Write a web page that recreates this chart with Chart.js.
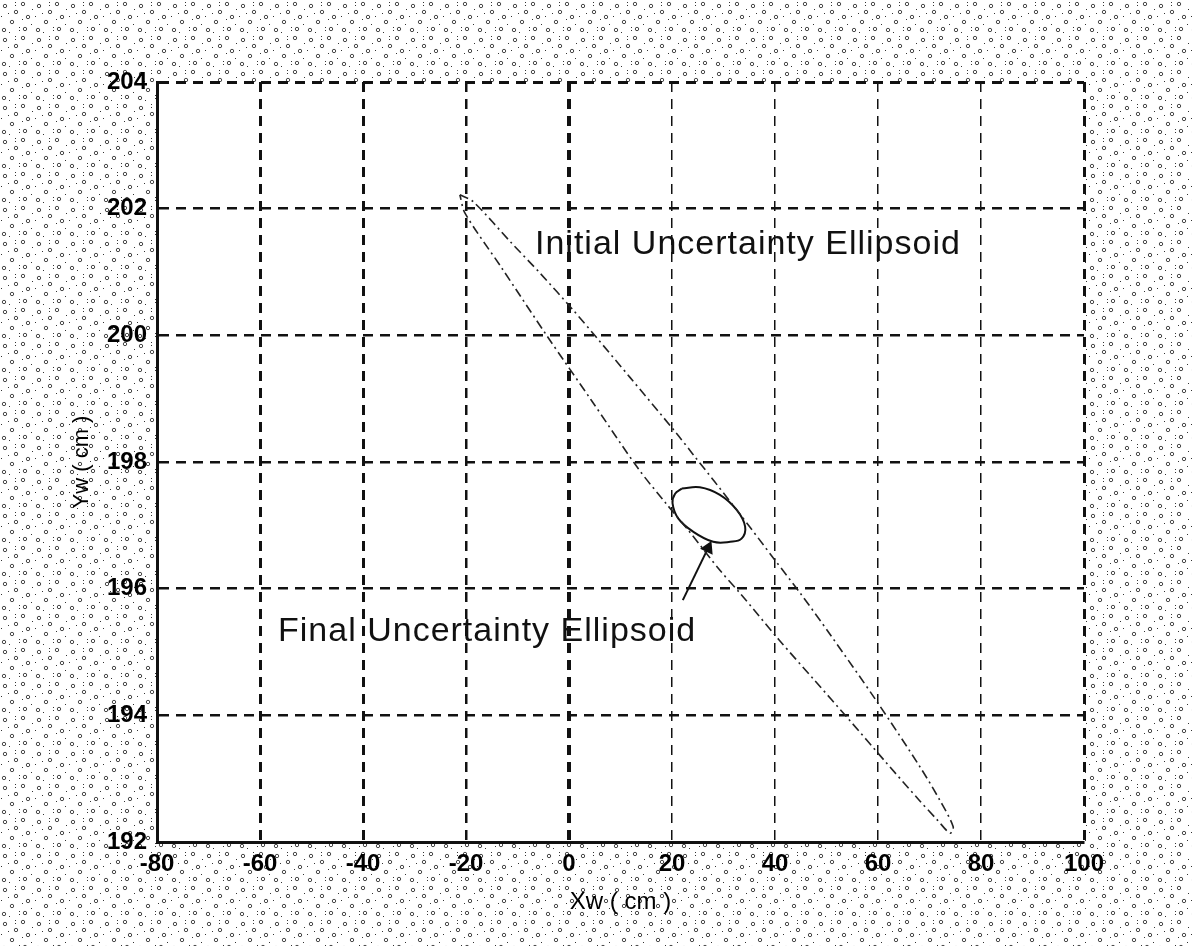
<!DOCTYPE html>
<html>
<head>
<meta charset="utf-8">
<script src="https://cdn.jsdelivr.net/npm/chart.js@4/dist/chart.umd.min.js"></script>
<style>
  html, body { margin: 0; padding: 0; background: #fff; }
  #wrap { width: 1192px; height: 946px; }
</style>
</head>
<body>
<div id="wrap"><canvas id="chart" width="1192" height="946"></canvas></div>
<script>
'use strict';

// axis ticks
const xTicks = [-80, -60, -40, -20, 0, 20, 40, 60, 80, 100];
const yTicks = [192, 194, 196, 198, 200, 202, 204];

// initial uncertainty ellipsoid, traced round from the upper-left tip
const initX = [-21.2, -18.6, -11.3, -5.6, 0.8, 5.4, 11.8, 20.8, 23.9, 32.6, 40.0, 44.9, 50.5, 59.6, 68.2, 72.0, 74.6, 74.0,
  71.5, 68.0, 61.2, 54.4, 47.6, 40.8, 33.2, 29.3, 23.1, 18.8, 13.4, 4.3, -4.1, -13.2, -20.2, -21.2];
const initY = [202.22, 202.11, 201.47, 200.98, 200.4, 199.96, 199.34, 198.46, 198.14, 197.24, 196.45, 195.93, 195.3, 194.24, 193.18, 192.66, 192.24, 192.14,
  192.35, 192.66, 193.29, 193.93, 194.56, 195.19, 195.93, 196.29, 196.93, 197.35, 197.9, 198.98, 199.97, 201.08, 201.93, 202.22];

// final uncertainty ellipsoid
const finalX = [21.9, 25.4, 29.3, 32.6, 34.2, 33.5, 31.3, 28.0, 24.1, 21.2, 20.1, 20.6, 21.9];
const finalY = [197.58, 197.6, 197.48, 197.24, 196.98, 196.79, 196.74, 196.74, 196.9, 197.11, 197.35, 197.5, 197.58];

// arrow from the label to the final ellipse
const arrowX = [22.1, 27.0];
const arrowY = [195.82, 196.64];

// text annotations
const noteText = ['Initial Uncertainty Ellipsoid', 'Final Uncertainty Ellipsoid'];
const noteX = [-6.6, -56.5];
const noteY = [201.43, 195.32];

const zip = (xs, ys) => xs.map((x, i) => ({ x, y: ys[i] }));

const FONT = '"Liberation Sans", Arial, sans-serif';
const INK = '#111';

// stippled paper texture round the plot
function makeStipple() {
  const c = document.createElement('canvas');
  c.width = 34; c.height = 34;
  const g = c.getContext('2d');
  g.fillStyle = '#fff';
  g.fillRect(0, 0, 34, 34);
  g.strokeStyle = '#333';
  g.lineWidth = 0.9;
  [[5, 6], [23, 4], [28, 17], [12, 22], [25, 29], [4, 30], [16, 12]].forEach(([x, y]) => {
    g.beginPath();
    g.arc(x, y, 1.7, 0, Math.PI * 2);
    g.stroke();
  });
  g.fillStyle = '#333';
  [[15, 2], [15, 5], [32, 9], [1, 16], [19, 27], [19, 30], [9, 32], [31, 24], [8, 13], [22, 19]].forEach(([x, y]) => g.fillRect(x, y, 1, 1));
  return c;
}

const paperPlugin = {
  id: 'paper',
  beforeDraw(chart) {
    const { ctx, chartArea: a } = chart;
    ctx.save();
    ctx.fillStyle = ctx.createPattern(makeStipple(), 'repeat');
    ctx.fillRect(0, 0, chart.width, chart.height);
    ctx.fillStyle = '#fff';
    ctx.fillRect(a.left, a.top, a.right - a.left, a.bottom - a.top);
    ctx.restore();
  }
};

const notesPlugin = {
  id: 'notes',
  afterDatasetsDraw(chart) {
    const { ctx, scales: { x, y } } = chart;
    ctx.save();
    ctx.font = '34px ' + FONT;
    if ('letterSpacing' in ctx) ctx.letterSpacing = '1px';
    ctx.fillStyle = INK;
    ctx.textAlign = 'left';
    ctx.textBaseline = 'middle';
    noteText.forEach((t, i) => {
      ctx.fillText(t, x.getPixelForValue(noteX[i]), y.getPixelForValue(noteY[i]));
    });
    ctx.restore();
  }
};

const xGridWidth = { '-60': 3, '-40': 3, '-20': 2.5, '0': 4, '100': 3 };

new Chart(document.getElementById('chart'), {
  type: 'scatter',
  data: {
    datasets: [
      {
        label: 'Initial',
        data: zip(initX, initY),
        showLine: true,
        tension: 0.3,
        borderColor: '#222',
        borderWidth: 1.6,
        borderDash: [9, 4, 2, 4],
        pointRadius: 0,
      },
      {
        label: 'Final',
        data: zip(finalX, finalY),
        showLine: true,
        tension: 0.4,
        borderColor: '#111',
        borderWidth: 2,
        pointRadius: 0,
      },
      {
        label: 'Arrow',
        data: zip(arrowX, arrowY),
        showLine: true,
        borderColor: '#111',
        borderWidth: 2,
        backgroundColor: '#111',
        pointStyle: 'triangle',
        pointRadius: [0, 6],
        pointRotation: 25,
      },
    ],
  },
  options: {
    responsive: false,
    animation: false,
    layout: { padding: { top: 82, right: 108, left: 0, bottom: 0 } },
    plugins: {
      legend: { display: false },
      tooltip: { enabled: false },
    },
    scales: {
      x: {
        type: 'linear',
        min: -80,
        max: 100,
        afterBuildTicks: (s) => { s.ticks = xTicks.map((v) => ({ value: v })); },
        afterFit: (s) => { s.height = 104; },
        ticks: {
          padding: 8,
          color: '#000',
          font: { family: FONT, size: 24, weight: 'bold' },
          maxRotation: 0,
        },
        grid: {
          color: INK,
          drawTicks: false,
          lineWidth: (c) => xGridWidth[String(c.tick && c.tick.value)] || 1.5,
        },
        border: { display: true, color: INK, width: 3, dash: [10, 7] },
        title: {
          display: true,
          text: 'Xw ( cm )',
          color: '#000',
          font: { family: FONT, size: 24 },
          padding: { top: 0, bottom: 29 },
        },
      },
      y: {
        type: 'linear',
        min: 192,
        max: 204,
        afterBuildTicks: (s) => { s.ticks = yTicks.map((v) => ({ value: v })); },
        afterFit: (s) => { s.width = 157; },
        ticks: {
          padding: 10,
          color: '#000',
          font: { family: FONT, size: 24, weight: 'bold' },
        },
        grid: {
          color: INK,
          drawTicks: false,
          lineWidth: (c) => (c.tick && c.tick.value === 204 ? 3 : 2.5),
        },
        border: { display: true, color: INK, width: 3, dash: [10, 7] },
        title: {
          display: true,
          text: 'Yw ( cm )',
          color: '#000',
          font: { family: FONT, size: 22 },
          padding: { top: 69, bottom: 0 },
        },
      },
    },
  },
  plugins: [paperPlugin, notesPlugin],
});
</script>
</body>
</html>
